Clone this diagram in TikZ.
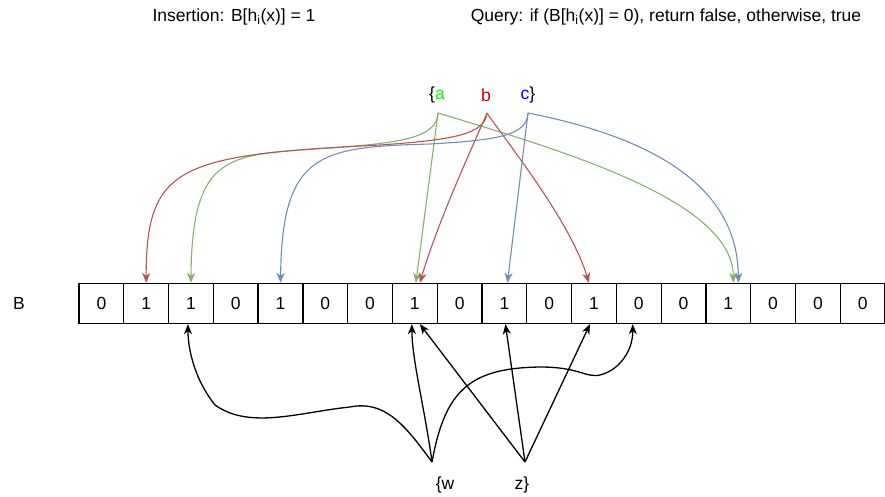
\documentclass[tikz,border=0pt]{standalone}
\usepackage{fontspec}
\setmainfont{Liberation Sans}
\usetikzlibrary{arrows.meta,positioning}
\definecolor{hred}{HTML}{B85450}
\definecolor{hgreen}{HTML}{82B366}
\definecolor{hblue}{HTML}{6C8EBF}
\definecolor{kgreen}{HTML}{00FF00}
\definecolor{kred}{HTML}{CC0000}
\definecolor{kblue}{HTML}{0000FF}

\begin{document}
\begin{tikzpicture}[x=1pt,y=-1pt,font=\fontsize{17.5}{21}\selectfont,
    cell/.style={draw,line width=1.3pt,minimum width=44.78pt,minimum height=40pt,inner sep=0pt},
    hasharr/.style={-{Stealth[length=10pt,width=8pt,inset=3pt]},line width=1.1pt},
    probearr/.style={-{Stealth[length=10pt,width=8pt,inset=3pt]},line width=1.3pt}]
    \useasboundingbox (0,0) rectangle (885,496);

    % Titles
    \node (ins) at (234,17) {Insertion: B[h\textsubscript{i}(x)] = 1};
    \node (qry) at (666,17) {Query: if (B[h\textsubscript{i}(x)] = 0), return false, otherwise, true};

    % Bit array
    \node (lab) at (19,303.5) {B};
    \foreach \v [count=\i from 0] in {0,1,1,0,1,0,0,1,0,1,0,1,0,0,1,0,0,0}
        \node[cell] (c\i) at ({79+44.78*(\i+0.5)},303.5) {\v};

    % Inserted set
    \node (sa) at (437,95) {\{\textcolor{kgreen}{a}};
    \node (sb) at (486,95) {\textcolor{kred}{b}};
    \node (sc) at (528,95) {\textcolor{kblue}{c}\}};
    \coordinate (pa) at (438,113);
    \coordinate (pb) at (487,113);
    \coordinate (pc) at (528,113);

    \draw[hasharr,hgreen] (pa) .. controls (437,138) and (400,143) .. (330,148)
        .. controls (230,155) and (192,150) .. (c2.north);
    \draw[hasharr,hgreen] (pa) -- ([xshift=1]c7.north);
    \draw[hasharr,hgreen] (pa) .. controls (560,150) and (733,200) .. ([xshift=5]c14.north);

    \draw[hasharr,hred] (pb) .. controls (485,135) and (450,140) .. (380,145)
        .. controls (180,155) and (146,165) .. (c1.north);
    \draw[hasharr,hred] (pb) .. controls (478,135) and (440,215) .. ([xshift=5]c7.north);
    \draw[hasharr,hred] (pb) .. controls (505,140) and (570,220) .. ([xshift=-5]c11.north);

    \draw[hasharr,hblue] (pc) .. controls (527,135) and (500,140) .. (430,144)
        .. controls (320,147) and (282,152) .. (c4.north);
    \draw[hasharr,hblue] (pc) -- ([xshift=3]c9.north);
    \draw[hasharr,hblue] (pc) .. controls (640,135) and (738,180) .. ([xshift=10]c14.north);

    % Queried set
    \node (sw) at (445,485) {\{w};
    \node (sz) at (522,485) {z\}};
    \coordinate (pw) at (432,462);
    \coordinate (pz) at (525,462);

    \draw[probearr] (pw) .. controls (405,425) and (385,400) .. (350,407)
        .. controls (300,412) and (250,430) .. (215,405)
        .. controls (195,380) and (188,350) .. ([xshift=-3]c2.south);
    \draw[probearr] (pw) .. controls (425,410) and (412,360) .. ([xshift=-3]c7.south);
    \draw[probearr] (pw) .. controls (445,390) and (470,368) .. (540,367)
        .. controls (580,367) and (585,378) .. (600,375)
        .. controls (620,370) and (633,350) .. ([xshift=-6]c12.south);
    \draw[probearr] (pz) -- ([xshift=5]c7.south);
    \draw[probearr] (pz) -- ([xshift=1]c9.south);
    \draw[probearr] (pz) -- ([xshift=-4]c11.south);
\end{tikzpicture}
\end{document}
